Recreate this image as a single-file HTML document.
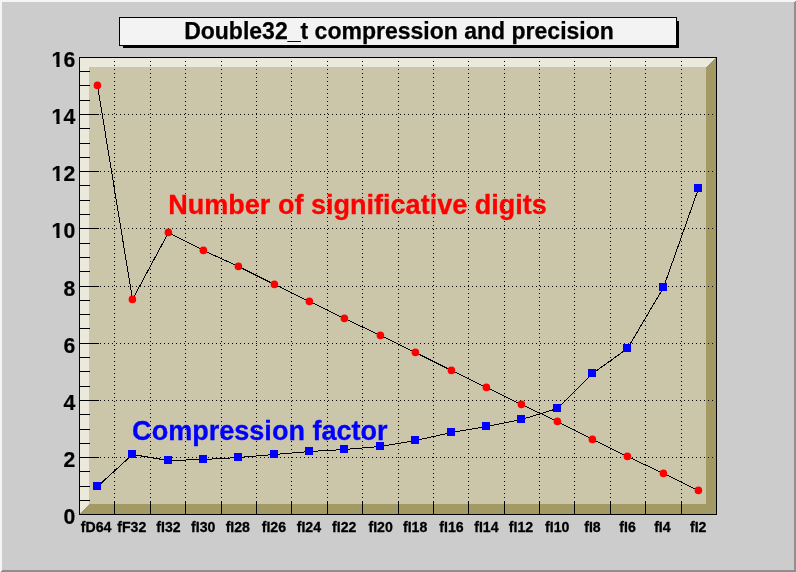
<!DOCTYPE html>
<html lang="en"><head><meta charset="utf-8"><title>Double32_t compression and precision</title>
<style>html,body{margin:0;padding:0;background:#ccc;overflow:hidden}svg{display:block}text{font-family:"Liberation Sans",Arial,Helvetica,sans-serif;font-weight:bold}</style>
</head><body>
<svg width="796" height="572" viewBox="0 0 796 572">
<rect x="0" y="0" width="796" height="572" fill="#cccccc"/>
<g shape-rendering="crispEdges">
<polygon points="0,0 796,0 794,2 2,2 2,570 0,572" fill="#f5f5f5"/>
<polygon points="796,0 796,572 0,572 2,570 794,570 794,2" fill="#8f8f8f"/>
<rect x="123" y="21" width="556" height="27" fill="#000"/>
<rect x="119" y="17" width="558" height="29" fill="#000"/>
<rect x="120" y="18" width="556" height="27" fill="#f3f3f3"/>
<rect x="79" y="57" width="638" height="458" fill="#000"/>
<rect x="89" y="67" width="617" height="437" fill="#cbc6a9"/>
<polygon points="80,58 716,58 706,67 89,67 89,504 80,514" fill="#ebe9db"/>
<polygon points="716,58 716,514 80,514 89,504 706,504 706,67" fill="#a29965"/>
<line x1="114.5" y1="61" x2="114.5" y2="501" stroke="#000" stroke-width="1" stroke-dasharray="1 3"/>
<rect x="114" y="501" width="1" height="13" fill="#000"/>
<line x1="150.5" y1="61" x2="150.5" y2="501" stroke="#000" stroke-width="1" stroke-dasharray="1 3"/>
<rect x="150" y="501" width="1" height="13" fill="#000"/>
<line x1="185.5" y1="61" x2="185.5" y2="501" stroke="#000" stroke-width="1" stroke-dasharray="1 3"/>
<rect x="185" y="501" width="1" height="13" fill="#000"/>
<line x1="221.5" y1="61" x2="221.5" y2="501" stroke="#000" stroke-width="1" stroke-dasharray="1 3"/>
<rect x="221" y="501" width="1" height="13" fill="#000"/>
<line x1="256.5" y1="61" x2="256.5" y2="501" stroke="#000" stroke-width="1" stroke-dasharray="1 3"/>
<rect x="256" y="501" width="1" height="13" fill="#000"/>
<line x1="291.5" y1="61" x2="291.5" y2="501" stroke="#000" stroke-width="1" stroke-dasharray="1 3"/>
<rect x="291" y="501" width="1" height="13" fill="#000"/>
<line x1="327.5" y1="61" x2="327.5" y2="501" stroke="#000" stroke-width="1" stroke-dasharray="1 3"/>
<rect x="327" y="501" width="1" height="13" fill="#000"/>
<line x1="362.5" y1="61" x2="362.5" y2="501" stroke="#000" stroke-width="1" stroke-dasharray="1 3"/>
<rect x="362" y="501" width="1" height="13" fill="#000"/>
<line x1="398.5" y1="61" x2="398.5" y2="501" stroke="#000" stroke-width="1" stroke-dasharray="1 3"/>
<rect x="398" y="501" width="1" height="13" fill="#000"/>
<line x1="433.5" y1="61" x2="433.5" y2="501" stroke="#000" stroke-width="1" stroke-dasharray="1 3"/>
<rect x="433" y="501" width="1" height="13" fill="#000"/>
<line x1="468.5" y1="61" x2="468.5" y2="501" stroke="#000" stroke-width="1" stroke-dasharray="1 3"/>
<rect x="468" y="501" width="1" height="13" fill="#000"/>
<line x1="504.5" y1="61" x2="504.5" y2="501" stroke="#000" stroke-width="1" stroke-dasharray="1 3"/>
<rect x="504" y="501" width="1" height="13" fill="#000"/>
<line x1="539.5" y1="61" x2="539.5" y2="501" stroke="#000" stroke-width="1" stroke-dasharray="1 3"/>
<rect x="539" y="501" width="1" height="13" fill="#000"/>
<line x1="574.5" y1="61" x2="574.5" y2="501" stroke="#000" stroke-width="1" stroke-dasharray="1 3"/>
<rect x="574" y="501" width="1" height="13" fill="#000"/>
<line x1="610.5" y1="61" x2="610.5" y2="501" stroke="#000" stroke-width="1" stroke-dasharray="1 3"/>
<rect x="610" y="501" width="1" height="13" fill="#000"/>
<line x1="645.5" y1="61" x2="645.5" y2="501" stroke="#000" stroke-width="1" stroke-dasharray="1 3"/>
<rect x="645" y="501" width="1" height="13" fill="#000"/>
<line x1="681.5" y1="61" x2="681.5" y2="501" stroke="#000" stroke-width="1" stroke-dasharray="1 3"/>
<rect x="681" y="501" width="1" height="13" fill="#000"/>
<rect x="80" y="500" width="10" height="1" fill="#000"/>
<rect x="80" y="486" width="10" height="1" fill="#000"/>
<rect x="80" y="471" width="10" height="1" fill="#000"/>
<rect x="80" y="457" width="19" height="1" fill="#000"/>
<line x1="100" y1="457.5" x2="714" y2="457.5" stroke="#000" stroke-width="1" stroke-dasharray="1 3"/>
<rect x="80" y="443" width="10" height="1" fill="#000"/>
<rect x="80" y="429" width="10" height="1" fill="#000"/>
<rect x="80" y="414" width="10" height="1" fill="#000"/>
<rect x="80" y="400" width="19" height="1" fill="#000"/>
<line x1="100" y1="400.5" x2="714" y2="400.5" stroke="#000" stroke-width="1" stroke-dasharray="1 3"/>
<rect x="80" y="386" width="10" height="1" fill="#000"/>
<rect x="80" y="371" width="10" height="1" fill="#000"/>
<rect x="80" y="357" width="10" height="1" fill="#000"/>
<rect x="80" y="343" width="19" height="1" fill="#000"/>
<line x1="100" y1="343.5" x2="714" y2="343.5" stroke="#000" stroke-width="1" stroke-dasharray="1 3"/>
<rect x="80" y="328" width="10" height="1" fill="#000"/>
<rect x="80" y="314" width="10" height="1" fill="#000"/>
<rect x="80" y="300" width="10" height="1" fill="#000"/>
<rect x="80" y="286" width="19" height="1" fill="#000"/>
<line x1="100" y1="286.5" x2="714" y2="286.5" stroke="#000" stroke-width="1" stroke-dasharray="1 3"/>
<rect x="80" y="271" width="10" height="1" fill="#000"/>
<rect x="80" y="257" width="10" height="1" fill="#000"/>
<rect x="80" y="243" width="10" height="1" fill="#000"/>
<rect x="80" y="228" width="19" height="1" fill="#000"/>
<line x1="100" y1="228.5" x2="714" y2="228.5" stroke="#000" stroke-width="1" stroke-dasharray="1 3"/>
<rect x="80" y="214" width="10" height="1" fill="#000"/>
<rect x="80" y="200" width="10" height="1" fill="#000"/>
<rect x="80" y="185" width="10" height="1" fill="#000"/>
<rect x="80" y="171" width="19" height="1" fill="#000"/>
<line x1="100" y1="171.5" x2="714" y2="171.5" stroke="#000" stroke-width="1" stroke-dasharray="1 3"/>
<rect x="80" y="157" width="10" height="1" fill="#000"/>
<rect x="80" y="143" width="10" height="1" fill="#000"/>
<rect x="80" y="128" width="10" height="1" fill="#000"/>
<rect x="80" y="114" width="19" height="1" fill="#000"/>
<line x1="100" y1="114.5" x2="714" y2="114.5" stroke="#000" stroke-width="1" stroke-dasharray="1 3"/>
<rect x="80" y="100" width="10" height="1" fill="#000"/>
<rect x="80" y="85" width="10" height="1" fill="#000"/>
<rect x="80" y="71" width="10" height="1" fill="#000"/>
</g>
<polyline points="97.5,85.5 132.5,299.5 168.5,232.5 203.5,250.5 238.5,266.5 274.5,284.5 309.5,301.5 344.5,318.5 380.5,335.5 415.5,352.5 451.5,370.5 486.5,387.5 521.5,404.5 557.5,421.5 592.5,439.5 627.5,456.5 663.5,473.5 698.5,490.5" fill="none" stroke="#000" stroke-width="1" shape-rendering="crispEdges"/>
<polyline points="97.5,486.5 132.5,454.5 168.5,460.5 203.5,459.5 238.5,457.5 274.5,454.5 309.5,451.5 344.5,449.5 380.5,446.5 415.5,440.5 451.5,432.5 486.5,426.5 521.5,419.5 557.5,408.5 592.5,373.5 627.5,348.5 663.5,287.5 698.5,188.5" fill="none" stroke="#000" stroke-width="1" shape-rendering="crispEdges"/>
<circle cx="97.4" cy="85.4" r="3.8" fill="#f00"/>
<circle cx="132.4" cy="299.4" r="3.8" fill="#f00"/>
<circle cx="168.4" cy="232.4" r="3.8" fill="#f00"/>
<circle cx="203.4" cy="250.4" r="3.8" fill="#f00"/>
<circle cx="238.4" cy="266.4" r="3.8" fill="#f00"/>
<circle cx="274.4" cy="284.4" r="3.8" fill="#f00"/>
<circle cx="309.4" cy="301.4" r="3.8" fill="#f00"/>
<circle cx="344.4" cy="318.4" r="3.8" fill="#f00"/>
<circle cx="380.4" cy="335.4" r="3.8" fill="#f00"/>
<circle cx="415.4" cy="352.4" r="3.8" fill="#f00"/>
<circle cx="451.4" cy="370.4" r="3.8" fill="#f00"/>
<circle cx="486.4" cy="387.4" r="3.8" fill="#f00"/>
<circle cx="521.4" cy="404.4" r="3.8" fill="#f00"/>
<circle cx="557.4" cy="421.4" r="3.8" fill="#f00"/>
<circle cx="592.4" cy="439.4" r="3.8" fill="#f00"/>
<circle cx="627.4" cy="456.4" r="3.8" fill="#f00"/>
<circle cx="663.4" cy="473.4" r="3.8" fill="#f00"/>
<circle cx="698.4" cy="490.4" r="3.8" fill="#f00"/>
<g shape-rendering="crispEdges">
<rect x="93" y="482" width="8" height="8" fill="#00f"/>
<rect x="128" y="450" width="8" height="8" fill="#00f"/>
<rect x="164" y="456" width="8" height="8" fill="#00f"/>
<rect x="199" y="455" width="8" height="8" fill="#00f"/>
<rect x="234" y="453" width="8" height="8" fill="#00f"/>
<rect x="270" y="450" width="8" height="8" fill="#00f"/>
<rect x="305" y="447" width="8" height="8" fill="#00f"/>
<rect x="340" y="445" width="8" height="8" fill="#00f"/>
<rect x="376" y="442" width="8" height="8" fill="#00f"/>
<rect x="411" y="436" width="8" height="8" fill="#00f"/>
<rect x="447" y="428" width="8" height="8" fill="#00f"/>
<rect x="482" y="422" width="8" height="8" fill="#00f"/>
<rect x="517" y="415" width="8" height="8" fill="#00f"/>
<rect x="553" y="404" width="8" height="8" fill="#00f"/>
<rect x="588" y="369" width="8" height="8" fill="#00f"/>
<rect x="623" y="344" width="8" height="8" fill="#00f"/>
<rect x="659" y="283" width="8" height="8" fill="#00f"/>
<rect x="694" y="184" width="8" height="8" fill="#00f"/>
</g>
<text x="399" y="39" font-size="23.03" stroke="#000" stroke-width="0.25" text-anchor="middle" fill="#000">Double32_t compression and precision</text>
<text x="168.2" y="214" font-size="27.05" fill="#f00" stroke="#f00" stroke-width="0.3">Number of significative digits</text>
<text x="132.1" y="440" font-size="27.05" fill="#00f" stroke="#00f" stroke-width="0.3">Compression factor</text>
<text x="75.2" y="524" font-size="21.2" stroke="#000" stroke-width="0.2" text-anchor="end" fill="#000">0</text>
<text x="75.2" y="467" font-size="21.2" stroke="#000" stroke-width="0.2" text-anchor="end" fill="#000">2</text>
<text x="75.2" y="410" font-size="21.2" stroke="#000" stroke-width="0.2" text-anchor="end" fill="#000">4</text>
<text x="75.2" y="353" font-size="21.2" stroke="#000" stroke-width="0.2" text-anchor="end" fill="#000">6</text>
<text x="75.2" y="296" font-size="21.2" stroke="#000" stroke-width="0.2" text-anchor="end" fill="#000">8</text>
<text x="75.2" y="238" font-size="21.2" stroke="#000" stroke-width="0.2" text-anchor="end" fill="#000">10</text>
<rect x="51.6" y="235" width="4.85" height="4" fill="#ccc"/><rect x="59.6" y="235" width="3.9" height="4" fill="#ccc"/>
<text x="75.2" y="181" font-size="21.2" stroke="#000" stroke-width="0.2" text-anchor="end" fill="#000">12</text>
<rect x="51.6" y="178" width="4.85" height="4" fill="#ccc"/><rect x="59.6" y="178" width="3.9" height="4" fill="#ccc"/>
<text x="75.2" y="124" font-size="21.2" stroke="#000" stroke-width="0.2" text-anchor="end" fill="#000">14</text>
<rect x="51.6" y="121" width="4.85" height="4" fill="#ccc"/><rect x="59.6" y="121" width="3.9" height="4" fill="#ccc"/>
<text x="75.2" y="67" font-size="21.2" stroke="#000" stroke-width="0.2" text-anchor="end" fill="#000">16</text>
<rect x="51.6" y="64" width="4.85" height="4" fill="#ccc"/><rect x="59.6" y="64" width="3.9" height="4" fill="#ccc"/>
<text x="96.1" y="532" font-size="14.1" stroke="#000" stroke-width="0.3" text-anchor="middle" fill="#000">fD64</text>
<text x="131.8" y="532" font-size="14.1" stroke="#000" stroke-width="0.3" text-anchor="middle" fill="#000">fF32</text>
<text x="168.5" y="532" font-size="14.1" stroke="#000" stroke-width="0.3" text-anchor="middle" fill="#000">fI32</text>
<text x="203.2" y="532" font-size="14.1" stroke="#000" stroke-width="0.3" text-anchor="middle" fill="#000">fI30</text>
<text x="237.8" y="532" font-size="14.1" stroke="#000" stroke-width="0.3" text-anchor="middle" fill="#000">fI28</text>
<text x="273.9" y="532" font-size="14.1" stroke="#000" stroke-width="0.3" text-anchor="middle" fill="#000">fI26</text>
<text x="308.9" y="532" font-size="14.1" stroke="#000" stroke-width="0.3" text-anchor="middle" fill="#000">fI24</text>
<text x="344.2" y="532" font-size="14.1" stroke="#000" stroke-width="0.3" text-anchor="middle" fill="#000">fI22</text>
<text x="380.6" y="532" font-size="14.1" stroke="#000" stroke-width="0.3" text-anchor="middle" fill="#000">fI20</text>
<text x="415.1" y="532" font-size="14.1" stroke="#000" stroke-width="0.3" text-anchor="middle" fill="#000">fI18</text>
<text x="451.5" y="532" font-size="14.1" stroke="#000" stroke-width="0.3" text-anchor="middle" fill="#000">fI16</text>
<text x="486.4" y="532" font-size="14.1" stroke="#000" stroke-width="0.3" text-anchor="middle" fill="#000">fI14</text>
<text x="521.0" y="532" font-size="14.1" stroke="#000" stroke-width="0.3" text-anchor="middle" fill="#000">fI12</text>
<text x="557.2" y="532" font-size="14.1" stroke="#000" stroke-width="0.3" text-anchor="middle" fill="#000">fI10</text>
<text x="592.5" y="532" font-size="14.1" stroke="#000" stroke-width="0.3" text-anchor="middle" fill="#000">fI8</text>
<text x="627.6" y="532" font-size="14.1" stroke="#000" stroke-width="0.3" text-anchor="middle" fill="#000">fI6</text>
<text x="662.4" y="532" font-size="14.1" stroke="#000" stroke-width="0.3" text-anchor="middle" fill="#000">fI4</text>
<text x="698.2" y="532" font-size="14.1" stroke="#000" stroke-width="0.3" text-anchor="middle" fill="#000">fI2</text>
</svg>
</body></html>
